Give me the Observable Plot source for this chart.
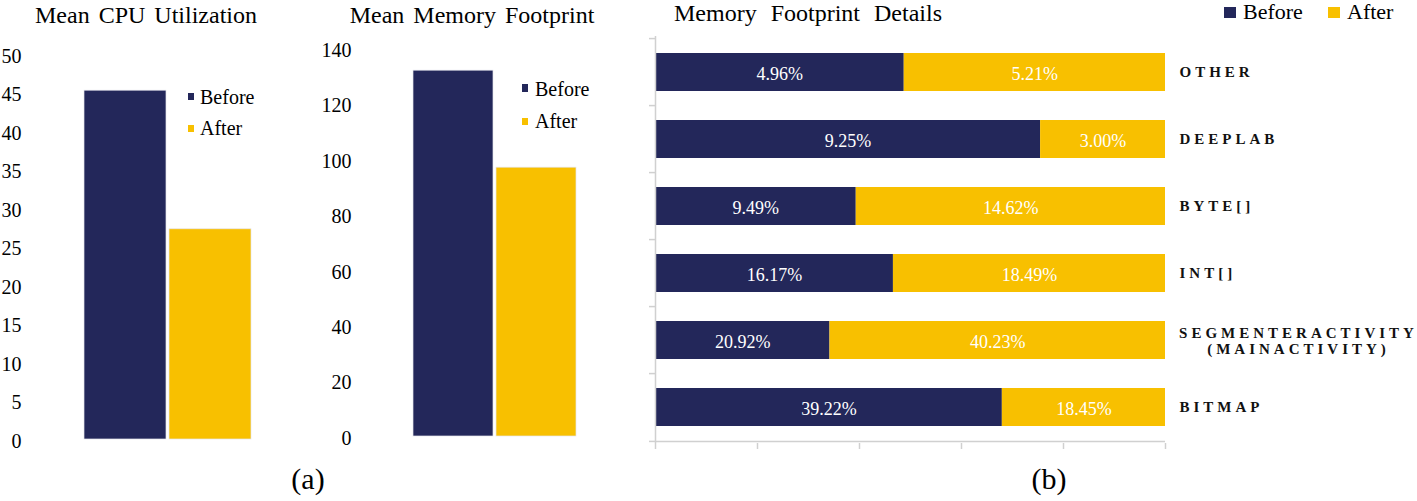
<!DOCTYPE html>
<html><head><meta charset="utf-8">
<script src="https://cdn.jsdelivr.net/npm/d3@7"></script>
<script src="https://cdn.jsdelivr.net/npm/@observablehq/plot@0.6"></script>
<style>
body{margin:0;background:#fff;}
#root{position:relative;width:1417px;height:501px;font-family:"Liberation Serif","Times New Roman",Times,"DejaVu Serif",serif;color:#000;overflow:hidden;background:#fff;}
.abs{position:absolute;white-space:nowrap;line-height:1;}
.title{font-size:24px;word-spacing:3px;transform:translateX(-50%);}
.sw{position:absolute;}
.detail g[font-weight="bold"] text{letter-spacing:4px;}
</style></head>
<body><div id="root"></div>
<script>
// ---- data ----
const series = ["Before", "After"];
const colors = ["#23275a", "#f8c000"];
const cpuValues = [45.3, 27.3];
const cpuTicks = [0, 5, 10, 15, 20, 25, 30, 35, 40, 45, 50];
const memValues = [132, 97];
const memTicks = [0, 20, 40, 60, 80, 100, 120, 140];
const rows = ["OTHER", "DEEPLAB", "BYTE[]", "INT[]", "SEGMENTERACTIVITY\n(MAINACTIVITY)", "BITMAP"];
const beforePct = [4.96, 9.25, 9.49, 16.17, 20.92, 39.22];
const afterPct = [5.21, 3.00, 14.62, 18.49, 40.23, 18.45];
const shareTicks = [0, 0.2, 0.4, 0.6, 0.8, 1];
const titles = ["Mean CPU Utilization", "Mean Memory Footprint", "Memory Footprint Details"];
const panelLabels = ["(a)", "(b)"];

const root = document.getElementById("root");
const FONT = "'Liberation Serif', 'Times New Roman', Times, 'DejaVu Serif', serif";
const GRAY = "#d0d0d0";

function place(node, left, top) {
  const d = document.createElement("div");
  d.className = "abs";
  d.style.left = left + "px";
  d.style.top = top + "px";
  d.appendChild(node);
  root.appendChild(d);
  return d;
}
function textDiv(txt, left, top, cls, size) {
  const d = document.createElement("div");
  d.className = "abs " + (cls || "");
  d.textContent = txt;
  d.style.left = left + "px";
  d.style.top = top + "px";
  if (size) d.style.fontSize = size + "px";
  root.appendChild(d);
  return d;
}
function swatch(color, left, top, w, h) {
  const d = document.createElement("div");
  d.className = "sw";
  Object.assign(d.style, {left: left + "px", top: top + "px", width: w + "px", height: h + "px", background: color});
  root.appendChild(d);
}

function barChart(values, ticks, o) {
  const data = series.map((s, i) => ({series: s, value: values[i]}));
  return Plot.plot({
    width: o.width, height: 470,
    marginLeft: o.ml, marginTop: o.mt, marginBottom: 470 - o.bottom, marginRight: 0,
    style: {fontFamily: FONT, fontSize: "20px", background: "transparent", overflow: "visible", color: "#000"},
    x: {domain: series, range: o.xr, paddingInner: 0.04, paddingOuter: 0, axis: null},
    y: {domain: [0, ticks[ticks.length - 1]]},
    color: {domain: series, range: colors},
    marks: [
      Plot.barY(data, {x: "series", y: "value", fill: "series", stroke: "#e4e4ec", strokeWidth: 0.7}),
      Plot.axisY({ticks, tickSize: 0, tickPadding: 3, dy: 2, fontSize: 20, label: null})
    ]
  });
}

// (a) CPU
place(barChart(cpuValues, cpuTicks, {width: 290, ml: 24, mt: 54, bottom: 439, xr: [83, 251]}), 0, 0);
// (a) Memory
place(barChart(memValues, memTicks, {width: 330, ml: 64, mt: 48, bottom: 436, xr: [123, 286]}), 290, 0);

// (b) detail
const detail = [];
series.forEach((s, si) => rows.forEach((r, ri) =>
  detail.push({row: r, series: s, value: (si === 0 ? beforePct : afterPct)[ri]})));
const top3 = 36, bot3 = 443;
const step = (bot3 - top3) / rows.length;
const detailPlot = Plot.plot({
  className: "detail",
  width: 797, height: 470,
  marginLeft: 35, marginRight: 252, marginTop: top3, marginBottom: 470 - bot3,
  style: {fontFamily: FONT, fontSize: "18px", background: "transparent", overflow: "visible", color: "#000"},
  x: {domain: [0, 1]},
  y: {domain: rows, paddingInner: 0.44, paddingOuter: 0.22},
  color: {domain: series, range: colors},
  marks: [
    Plot.barX(detail, Plot.stackX({x: "value", y: "row", z: "series", fill: "series", offset: "normalize"})),
    Plot.text(detail, Plot.stackX({x: "value", y: "row", z: "series", offset: "normalize",
      text: d => d.value.toFixed(2) + "%", fill: "white", fontSize: 18, dy: 2})),
    Plot.ruleX([0], {stroke: GRAY, strokeWidth: 1.5}),
    Plot.ruleY(rows.slice(-1), {y: d => d, dy: step / 2, stroke: GRAY, strokeWidth: 1.5}),
    Plot.axisY({tickSize: 6, tickFormat: () => "", dy: -step / 2, stroke: GRAY, strokeWidth: 1.5, label: null}),
    Plot.axisY(rows.slice(-1), {tickSize: 6, tickFormat: () => "", dy: step / 2, stroke: GRAY, strokeWidth: 1.5, label: null}),
    Plot.axisX({ticks: shareTicks, tickSize: 6, tickFormat: () => "", stroke: GRAY, strokeWidth: 1.5, label: null}),
    Plot.text(rows.filter(r => !r.includes("\n")), {y: d => d, text: d => d, frameAnchor: "right", dx: 14,
      textAnchor: "start", fontWeight: "bold", fontSize: 15, fill: "#111"}),
    Plot.text(rows.filter(r => r.includes("\n")), {y: d => d, text: d => d, frameAnchor: "right", dx: 133,
      textAnchor: "middle", fontWeight: "bold", fontSize: 15, fill: "#111", lineHeight: 1.1})
  ]
});
place(detailPlot, 620, 0);

// titles
textDiv(titles[0], 146, 3, "title");
textDiv(titles[1], 472, 3, "title");
const t3 = textDiv(titles[2], 808, 1, "title"); t3.style.wordSpacing = "8px";

// legends
swatch(colors[0], 188, 93, 6, 7); textDiv(series[0], 200, 87, "", 20);
swatch(colors[1], 188, 125, 6, 7); textDiv(series[1], 200, 118, "", 20);
swatch(colors[0], 522, 84, 6, 8); textDiv(series[0], 535, 79, "", 20);
swatch(colors[1], 522, 118, 6, 7); textDiv(series[1], 535, 111, "", 20);
swatch(colors[0], 1224, 7, 12, 11); textDiv(series[0], 1243, 1, "", 22);
swatch(colors[1], 1328, 7, 12, 11); textDiv(series[1], 1347, 1, "", 22);

// panel labels
const pa = textDiv(panelLabels[0], 308, 464, "", 30); pa.style.transform = "translateX(-50%)";
const pb = textDiv(panelLabels[1], 1049, 464, "", 30); pb.style.transform = "translateX(-50%)";
</script>
</body></html>
